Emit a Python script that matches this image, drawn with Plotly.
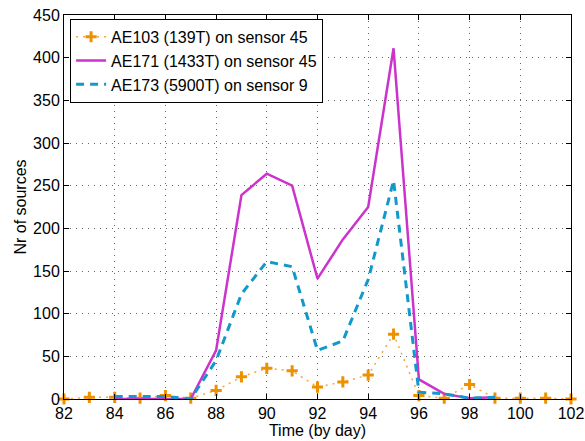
import plotly.graph_objects as go

days_103 = [82, 83, 84, 85, 86, 87, 88, 89, 90, 91, 92, 93, 94, 95, 96, 97, 98, 99, 100, 101, 102]
ae103 = [0, 2, 2, 1, 4, 1, 10, 26, 36, 33, 14, 20, 28, 76, 4, 1, 17, 1, 1, 1, 0]

days_171 = [84, 85, 86, 87, 88, 89, 90, 91, 92, 93, 94, 95, 96, 97, 98, 99]
ae171 = [0, 0, 0, 0, 57, 239, 264, 250, 141, 187, 225, 411, 23, 6, 1, 2]

days_173 = [84, 85, 86, 87, 88, 89, 90, 91, 92, 93, 94, 95, 96, 97, 98, 99]
ae173 = [3, 3, 3, 0, 45, 123, 161, 155, 57, 68, 140, 256, 8, 6, 1, 2]

x_ticks = list(range(82, 103, 2))
y_ticks = list(range(0, 451, 50))

fig = go.Figure()
fig.add_trace(go.Scatter(
    x=days_103, y=ae103, mode="lines+markers", name="AE103 (139T) on sensor 45",
    line=dict(color="#F2A540", width=1.5, dash="2px,5px"),
    marker=dict(symbol="cross-thin", size=8, line=dict(color="#EE9100", width=3)),
    cliponaxis=False,
))
fig.add_trace(go.Scatter(
    x=days_171, y=ae171, mode="lines", name="AE171 (1433T) on sensor 45",
    line=dict(color="#CC33CC", width=2.5),
))
fig.add_trace(go.Scatter(
    x=days_173, y=ae173, mode="lines", name="AE173 (5900T) on sensor 9",
    line=dict(color="#1199CC", width=3, dash="8px,6px"),
))

axis_common = dict(
    showline=True, linecolor="black", linewidth=1, mirror="allticks",
    ticks="inside", ticklen=5, tickcolor="black",
    showgrid=True, gridcolor="#666666", griddash="1px,5px", gridwidth=1,
    zeroline=False, tickfont=dict(size=16, color="black"), automargin=False,
)

fig.update_xaxes(range=[82, 102], tickvals=x_ticks,
                 title=dict(text="Time (by day)", font=dict(size=16, color="black"), standoff=0),
                 **axis_common)
fig.update_yaxes(range=[0, 450], tickvals=y_ticks,
                 title=dict(text="Nr of sources", font=dict(size=16, color="black"), standoff=2),
                 **axis_common)

fig.update_layout(
    width=585, height=441,
    margin=dict(l=64, r=14, t=15, b=42),
    paper_bgcolor="white", plot_bgcolor="white",
    font=dict(family="Liberation Sans, Arial, sans-serif", size=16, color="black"),
    legend=dict(x=0.012, y=0.99, xanchor="left", yanchor="top",
                bgcolor="white", bordercolor="black", borderwidth=1,
                font=dict(size=16), tracegroupgap=0, itemwidth=30),
    showlegend=True,
)

fig.write_html("out.html", config={"displayModeBar": False},
               post_script="document.body.style.margin='0px';document.body.style.overflow='hidden';")
